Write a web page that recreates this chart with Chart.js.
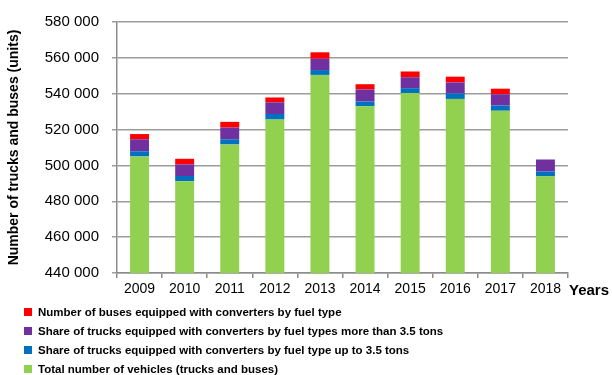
<!DOCTYPE html>
<html>
<head>
<meta charset="utf-8">
<script src="https://cdn.jsdelivr.net/npm/chart.js@4.4.1/dist/chart.umd.min.js"></script>
<style>
    html, body { margin: 0; padding: 0; background: #fff; }
    #wrap { position: relative; width: 612px; height: 375px; font-family: "Liberation Sans", Arial, sans-serif; }
    #chart { position: absolute; left: 0; top: 0; }
    #legend { position: absolute; left: 24px; top: 304px; }
    .item { height: 19px; line-height: 16px; font-weight: bold; font-size: 11.5px; color: #000; white-space: nowrap; }
    .box { display: inline-block; width: 8px; height: 8px; margin-right: 6px; }
</style>
</head>
<body>
<div id="wrap">
    <canvas id="chart" width="612" height="375"></canvas>
    <div id="legend"></div>
</div>
<script>
const years = ['2009', '2010', '2011', '2012', '2013', '2014', '2015', '2016', '2017', '2018'];
const totalVehicles = [505000, 491200, 511700, 525600, 550500, 533000, 540400, 537100, 530500, 493900];
const trucksUpTo35 = [2900, 2900, 2900, 3100, 2700, 2700, 2700, 3100, 2900, 2700];
const trucksOver35 = [6700, 6500, 6500, 6500, 6300, 6700, 6100, 6100, 6300, 6700];
const busesConverted = [2900, 3100, 3200, 2700, 3600, 2900, 3200, 3200, 3100, 0];

const yMin = 440000, yMax = 580000, yStep = 20000;

const datasets = [
    { label: 'Total number of vehicles (trucks and buses)', data: totalVehicles, backgroundColor: '#92D050' },
    { label: 'Share of trucks equipped with converters by fuel type up to 3.5 tons', data: trucksUpTo35, backgroundColor: '#0070C0' },
    { label: 'Share of trucks equipped with converters by fuel types more than 3.5 tons', data: trucksOver35, backgroundColor: '#7030A0' },
    { label: 'Number of buses equipped with converters by fuel type', data: busesConverted, backgroundColor: '#FF0000' }
];
datasets.forEach(d => { d.barPercentage = 0.42; d.categoryPercentage = 1.0; d.borderWidth = 0; });

// "Years" label next to the category axis
const yearsLabel = {
    id: 'yearsLabel',
    afterDraw(chart) {
        const ctx = chart.ctx;
        const x = chart.scales.x;
        ctx.save();
        ctx.font = 'bold 15px "Liberation Sans", Arial, sans-serif';
        ctx.fillStyle = '#000';
        ctx.textAlign = 'left';
        ctx.textBaseline = 'middle';
        ctx.fillText('Years', x.right + 1, x.top + 18);
        ctx.restore();
    }
};

const chart = new Chart(document.getElementById('chart'), {
    type: 'bar',
    data: { labels: years, datasets },
    options: {
        responsive: false,
        animation: false,
        layout: { padding: { left: 0, top: 14, right: 44, bottom: 72 } },
        plugins: { legend: { display: false }, tooltip: { enabled: false } },
        scales: {
            x: {
                stacked: true,
                grid: { display: true, offset: true, drawOnChartArea: false, drawTicks: true, tickLength: 5, color: '#8c8c8c', lineWidth: 1.5 },
                border: { color: '#8c8c8c', width: 1.5 },
                ticks: { color: '#000', font: { family: '"Liberation Sans", Arial, sans-serif', size: 14 }, padding: 3, maxRotation: 0 },
                afterFit(scale) { scale.height = 30; }
            },
            y: {
                stacked: true,
                min: yMin, max: yMax,
                grid: { color: '#9c9c9c', lineWidth: 1.5, drawTicks: true, tickLength: 5 },
                border: { color: '#8c8c8c', width: 1.5 },
                ticks: {
                    stepSize: yStep, color: '#000', padding: 13,
                    font: { family: '"Liberation Sans", Arial, sans-serif', size: 15 },
                    callback: v => String(v).replace(/\B(?=(\d{3})+(?!\d))/g, ' ')
                },
                title: {
                    display: true, text: 'Number of trucks and buses (units)', color: '#000',
                    font: { family: '"Liberation Sans", Arial, sans-serif', size: 14, weight: 'bold' },
                    padding: { top: 6, bottom: 0 }
                },
                afterFit(scale) { scale.width = 117; }
            }
        }
    },
    plugins: [yearsLabel]
});

// legend below the chart, top series first
const legend = document.getElementById('legend');
datasets.slice().reverse().forEach(d => {
    const row = document.createElement('div');
    row.className = 'item';
    row.innerHTML = '<span class="box" style="background:' + d.backgroundColor + '"></span>' + d.label;
    legend.appendChild(row);
});
</script>
</body>
</html>
